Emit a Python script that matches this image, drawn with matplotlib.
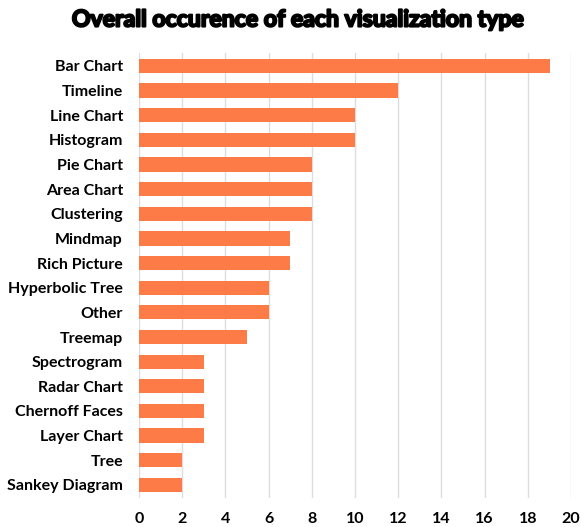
import matplotlib
matplotlib.use("Agg")
import matplotlib.pyplot as plt
import matplotlib.patheffects as pe

categories = ["Bar Chart", "Timeline", "Line Chart", "Histogram", "Pie Chart",
              "Area Chart", "Clustering", "Mindmap", "Rich Picture",
              "Hyperbolic Tree", "Other", "Treemap", "Spectrogram",
              "Radar Chart", "Chernoff Faces", "Layer Chart", "Tree",
              "Sankey Diagram"]
counts = [19, 12, 10, 10, 8, 8, 8, 7, 7, 6, 6, 5, 3, 3, 3, 3, 2, 2]
x_ticks = list(range(0, 21, 2))

plt.rcParams["font.family"] = ["Lato", "DejaVu Sans"]

fig = plt.figure(figsize=(5.81, 5.27), dpi=100)
ax = fig.add_axes([0.239, 0.055, 0.744, 0.845])

pos = list(range(len(categories)))
ax.barh(pos, counts, height=0.58, color="#FC7B46", zorder=3)

ax.set_xlim(0, 20)
ax.set_ylim(len(categories) - 0.47, -0.53)
ax.set_xticks(x_ticks)
ax.set_xticklabels([str(t) for t in x_ticks], fontsize=11.5, fontweight="bold")
ax.set_yticks(pos)
ax.set_yticklabels(categories, fontsize=11.5, fontweight="bold")

ax.grid(axis="x", color="#DDDDDD", linewidth=1, zorder=0)
for s in ax.spines.values():
    s.set_visible(False)
ax.tick_params(axis="both", length=0)
ax.tick_params(axis="x", pad=10)
ax.tick_params(axis="y", pad=11.5)

# heavy title, thickened with a stroke
fig.text(0.512, 0.962, "Overall occurence of each visualization type",
         ha="center", va="center", fontsize=16.6, fontweight="bold",
         path_effects=[pe.withStroke(linewidth=1.5, foreground="black")])

fig.savefig("out.png", dpi=100)
